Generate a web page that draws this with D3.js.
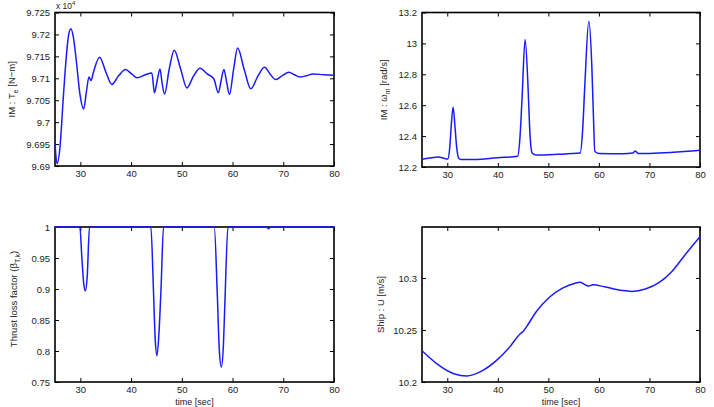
<!DOCTYPE html>
<html><head><meta charset="utf-8">
<script src="https://cdn.jsdelivr.net/npm/d3@7"></script>
<style>
html,body{margin:0;padding:0;background:#fff;}
svg text{font-family:"Liberation Sans",Arial,sans-serif;fill:#222;}
</style></head>
<body><svg id="c" width="714" height="407"></svg>
<script>
// ---- data ----
const xTicks = [30, 40, 50, 60, 70, 80];

const torqueT = [25, 25.4, 26.0, 26.6, 27.2, 27.7, 28.15, 28.6, 29.2, 29.9, 30.65, 31.2, 31.7, 32.1, 32.6, 33.8, 35.0, 36.2, 37.5, 38.9, 40.1, 41.2, 42.8, 44.1, 44.6, 45.15, 45.7, 46.1, 46.6, 47.5, 48.5, 49.8, 51.0, 52.3, 53.6, 55.0, 56.3, 57.2, 57.75, 58.3, 58.85, 59.4, 60.2, 61.0, 62.3, 63.6, 65.0, 66.3, 67.4, 68.5, 69.8, 71.1, 72.2, 73.3, 74.6, 75.9, 78, 80];
const torqueV = [9.6953, 9.6905, 9.6945, 9.705, 9.7145, 9.7200, 9.7213, 9.7195, 9.714, 9.7065, 9.703, 9.707, 9.7103, 9.7095, 9.7115, 9.7148, 9.7115, 9.7086, 9.7105, 9.712, 9.7110, 9.7101, 9.7108, 9.7112, 9.7067, 9.7095, 9.7121, 9.709, 9.7064, 9.712, 9.7164, 9.712, 9.7078, 9.7105, 9.7123, 9.711, 9.7099, 9.7067, 9.7095, 9.712, 9.709, 9.7063, 9.712, 9.7169, 9.712, 9.7076, 9.7105, 9.7125, 9.711, 9.7097, 9.7106, 9.7114, 9.7108, 9.7103, 9.7106, 9.711, 9.7108, 9.7107];
const torqueTicks = [9.69, 9.695, 9.7, 9.705, 9.71, 9.715, 9.72, 9.725];

const speedT = [25, 26.5, 28.2, 29.5, 30.1, 30.5, 30.75, 31.15, 31.55, 31.85, 32.3, 32.8, 35.4, 39.9, 43.9, 44.4, 44.8, 45.4, 46.0, 46.3, 46.8, 47.5, 51.7, 56.3, 56.8, 57.2, 58.0, 58.6, 58.85, 59.2, 60, 64.8, 66.7, 67.2, 67.8, 70, 80];
const speedV = [12.25, 12.258, 12.265, 12.255, 12.252, 12.33, 12.45, 12.589, 12.45, 12.33, 12.255, 12.248, 12.248, 12.26, 12.269, 12.40, 12.65, 13.025, 12.70, 12.45, 12.29, 12.278, 12.282, 12.29, 12.45, 12.72, 13.144, 12.85, 12.60, 12.30, 12.288, 12.286, 12.29, 12.304, 12.287, 12.288, 12.308];
const speedTicks = [12.2, 12.4, 12.6, 12.8, 13, 13.2];

const thrustT = [25, 29.9, 30.3, 30.65, 31.0, 31.35, 31.8, 43.9, 44.4, 44.75, 45.1, 45.5, 45.9, 46.4, 56.4, 57.0, 57.4, 57.8, 58.2, 58.5, 59.1, 66.7, 67.1, 67.5, 80];
const thrustV = [1, 1, 0.95, 0.91, 0.897, 0.92, 1, 1, 0.9, 0.82, 0.7925, 0.83, 0.9, 1, 1, 0.89, 0.80, 0.7742, 0.81, 0.88, 1, 1, 0.997, 1, 1];
const thrustTicks = [0.75, 0.8, 0.85, 0.9, 0.95, 1];

const shipT = [25, 27.9, 31.3, 33.9, 36.5, 39.8, 42.4, 44.4, 45.0, 45.6, 47.6, 50.2, 52.8, 55.3, 56.3, 57.6, 58.0, 58.8, 61.3, 64.6, 66.5, 69.2, 71.8, 74.4, 77.1, 80];
const shipV = [10.23, 10.2177, 10.208, 10.2058, 10.2097, 10.221, 10.234, 10.2462, 10.2485, 10.2525, 10.2675, 10.2815, 10.2903, 10.2950, 10.2958, 10.2928, 10.2922, 10.2935, 10.2913, 10.288, 10.2871, 10.2894, 10.2952, 10.306, 10.3226, 10.3397];
const shipTicks = [10.2, 10.25, 10.3];

// ---- drawing ----
const svg = d3.select("#c");

function panel(o) {
  const x = d3.scaleLinear().domain([25, 80]).range([o.x0, o.x1]);
  const y = d3.scaleLinear().domain(o.ydom).range([o.y1, o.y0]);
  const g = svg.append("g");
  const tl = 4;
  g.append("g").attr("transform", `translate(0,${o.y1})`)
    .call(d3.axisBottom(x).tickValues(xTicks).tickSize(-tl).tickPadding(4).tickFormat(d3.format("d")))
    .call(a => a.select(".domain").remove());
  g.append("g").attr("transform", `translate(0,${o.y0})`)
    .call(d3.axisTop(x).tickValues(xTicks).tickSize(-tl).tickFormat(""))
    .call(a => a.select(".domain").remove());
  g.append("g").attr("transform", `translate(${o.x0},0)`)
    .call(d3.axisLeft(y).tickValues(o.yticks).tickSize(-tl).tickPadding(5).tickFormat(d => String(+d.toFixed(4))))
    .call(a => a.select(".domain").remove());
  g.append("g").attr("transform", `translate(${o.x1},0)`)
    .call(d3.axisRight(y).tickValues(o.yticks).tickSize(-tl).tickFormat(""))
    .call(a => a.select(".domain").remove());
  g.selectAll(".tick line").attr("stroke", "#000").attr("stroke-width", 1);
  g.selectAll(".tick text").attr("font-size", 9.5).attr("fill", "#222")
    .style("font-family", "Liberation Sans, Arial, sans-serif");
  g.append("rect").attr("x", o.x0).attr("y", o.y0).attr("width", o.x1 - o.x0).attr("height", o.y1 - o.y0)
    .attr("fill", "none").attr("stroke", "#000").attr("stroke-width", 1.6);
  const data = o.t.map((t, i) => [t, o.v[i]]);
  g.append("path").datum(data)
    .attr("fill", "none").attr("stroke", "#1a1aff").attr("stroke-width", 1.5)
    .attr("d", d3.line().x(d => x(d[0])).y(d => y(d[1])).curve(d3.curveMonotoneX));
  const lab = g.append("text").attr("font-size", 9.5)
    .attr("transform", `translate(${o.labx},${o.laby !== undefined ? o.laby : (o.y0 + o.y1) / 2}) rotate(-90)`)
    .attr("text-anchor", "middle");
  o.label(lab);
  if (o.xlabel) {
    g.append("text").attr("x", (o.x0 + o.x1) / 2).attr("y", o.y1 + 23).attr("font-size", 9)
      .attr("text-anchor", "middle").text(o.xlabel);
  }
  return g;
}

panel({x0: 55, x1: 334, y0: 12.5, y1: 166, ydom: [9.69, 9.725], yticks: torqueTicks, t: torqueT, v: torqueV, labx: 15,
  label: t => { t.append("tspan").text("IM : T");
    t.append("tspan").attr("dy", 3).attr("font-size", 7).text("e");
    t.append("tspan").attr("dy", -3).text(" [N\u2212m]"); }});

panel({x0: 422, x1: 700, y0: 12.5, y1: 167, ydom: [12.2, 13.2], yticks: speedTicks, t: speedT, v: speedV, labx: 387,
  label: t => { t.append("tspan").text("IM : \u03c9");
    t.append("tspan").attr("dy", 3).attr("font-size", 7).text("m");
    t.append("tspan").attr("dy", -3).text(" [rad/s]"); }});

panel({x0: 55, x1: 334, y0: 227, y1: 382, ydom: [0.75, 1], yticks: thrustTicks, t: thrustT, v: thrustV, labx: 17, laby: 299, xlabel: "time [sec]",
  label: t => { t.append("tspan").text("Thrust loss factor (\u03b2");
    t.append("tspan").attr("dy", 3).attr("font-size", 7).text("T,k");
    t.append("tspan").attr("dy", -3).text(")"); }});

panel({x0: 422, x1: 700, y0: 227, y1: 382, ydom: [10.2, 10.349], yticks: shipTicks, t: shipT, v: shipV, labx: 384, xlabel: "time [sec]",
  label: t => { t.text("Ship : U [m/s]"); }});

const ex = svg.append("text").attr("x", 56).attr("y", 9).attr("font-size", 8.5);
ex.append("tspan").text("x 10");
ex.append("tspan").attr("dy", -4).attr("font-size", 6).text("4");
</script></body></html>
